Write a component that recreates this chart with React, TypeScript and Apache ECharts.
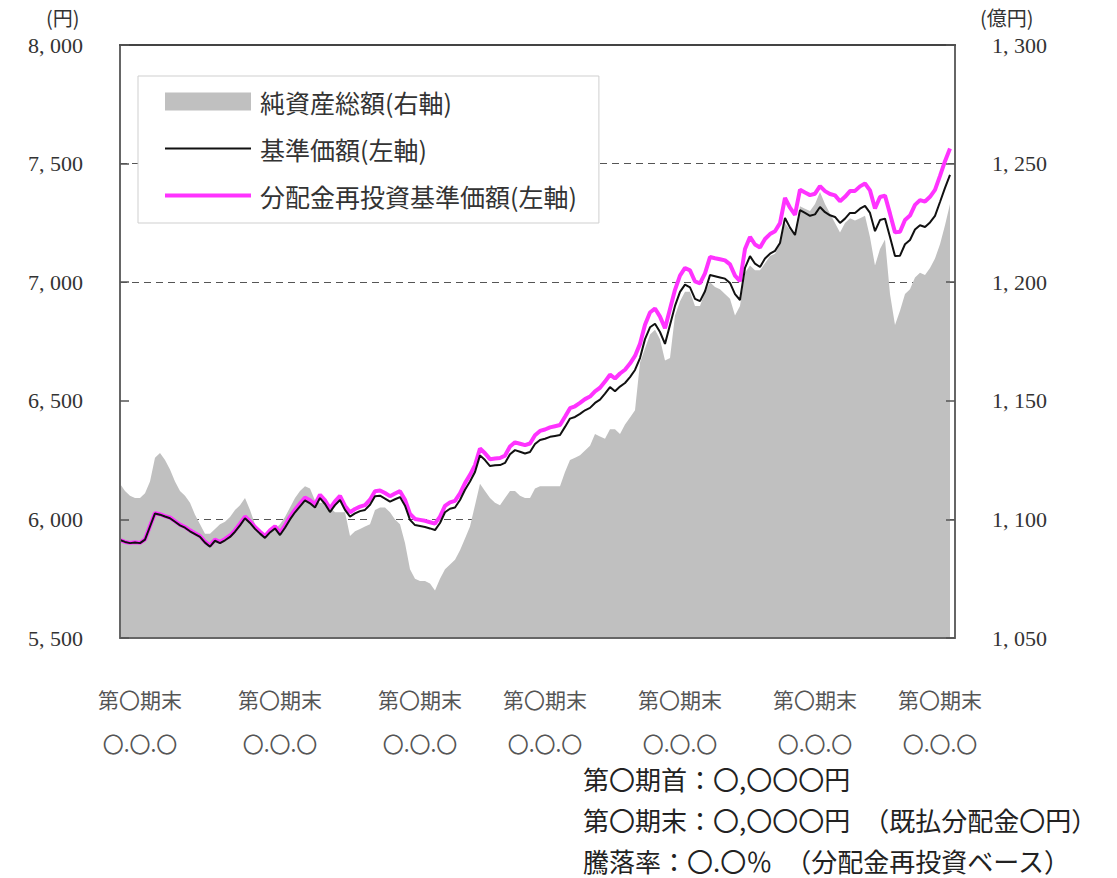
import React, { useEffect, useRef } from 'react';
import * as echarts from 'echarts';

// 基準価額（左軸, 円）
const navValues = [
  5913, 5905, 5900, 5903, 5900, 5915, 5970, 6025, 6020, 6012,
  6005, 5990, 5975, 5965, 5950, 5938, 5926, 5902, 5885, 5910,
  5900, 5912, 5926, 5948, 5975, 6005, 5985, 5960, 5940, 5922,
  5945, 5962, 5934, 5965, 6000, 6030, 6055, 6080, 6068, 6050,
  6090, 6065, 6031, 6060, 6082, 6040, 6012, 6025, 6035, 6040,
  6062, 6098, 6100, 6088, 6075, 6085, 6094, 6058, 5998, 5976,
  5972, 5968, 5962, 5955, 5985, 6030, 6045, 6050, 6082, 6125,
  6160, 6200, 6270, 6250, 6225, 6228, 6229, 6238, 6275, 6292,
  6285, 6278, 6284, 6318, 6335, 6340, 6348, 6352, 6356, 6390,
  6425, 6432, 6445, 6460, 6470, 6491, 6505, 6530, 6558, 6540,
  6560, 6575, 6600, 6630, 6680, 6760, 6810, 6825, 6790, 6740,
  6820, 6900, 6959, 6990, 6978, 6930, 6920, 6962, 7030, 7025,
  7020, 7015, 6997, 6950, 6925, 7060, 7110, 7078, 7064, 7100,
  7120, 7132, 7165, 7271, 7230, 7199, 7304, 7292, 7280, 7286,
  7317, 7295, 7282, 7275, 7250, 7268, 7292, 7292, 7310, 7322,
  7292, 7215, 7262, 7268, 7191, 7110, 7112, 7160, 7178, 7222,
  7240, 7233, 7252, 7280, 7338, 7398, 7452,
];

// 分配金再投資基準価額（左軸, 円）
const reinvestValues = [
  5913, 5905, 5901, 5904, 5901, 5916, 5972, 6027, 6022, 6014,
  6008, 5993, 5978, 5968, 5954, 5942, 5930, 5906, 5890, 5915,
  5905, 5918, 5932, 5954, 5982, 6012, 5992, 5968, 5948, 5930,
  5954, 5971, 5944, 5975, 6011, 6041, 6067, 6092, 6081, 6063,
  6104, 6080, 6046, 6076, 6099, 6057, 6030, 6044, 6054, 6060,
  6083, 6119, 6122, 6111, 6098, 6109, 6119, 6083, 6023, 6002,
  5998, 5994, 5988, 5982, 6012, 6057, 6072, 6078, 6110, 6153,
  6188, 6229, 6299, 6279, 6254, 6257, 6259, 6269, 6307, 6325,
  6319, 6313, 6320, 6355, 6373, 6379, 6388, 6393, 6398, 6433,
  6469, 6477, 6491, 6507, 6518, 6540, 6555, 6581, 6610, 6594,
  6615, 6631, 6657, 6689, 6740, 6821, 6872, 6889, 6855, 6806,
  6887, 6968, 7028, 7060, 7050, 7003, 6995, 7037, 7106, 7101,
  7097, 7092, 7075, 7028, 7004, 7140, 7191, 7159, 7146, 7182,
  7203, 7215, 7249, 7355, 7314, 7284, 7390, 7378, 7367, 7373,
  7405, 7384, 7372, 7366, 7341, 7360, 7384, 7385, 7404, 7416,
  7387, 7311, 7359, 7365, 7289, 7210, 7213, 7262, 7281, 7326,
  7346, 7340, 7360, 7389, 7448, 7510, 7564,
];

// 純資産総額（右軸, 億円）
const netAssets = [
  1115, 1112, 1110, 1109, 1109, 1111, 1116, 1126, 1128, 1125,
  1121, 1116, 1112, 1110, 1107, 1102, 1098, 1094, 1094, 1096,
  1098, 1099, 1101, 1104, 1106, 1109, 1104, 1098, 1095, 1093,
  1094, 1096, 1098, 1101, 1105, 1109, 1112, 1114, 1113, 1108,
  1107, 1107, 1105, 1103, 1103, 1103, 1093, 1095, 1096, 1097,
  1098, 1104, 1105, 1105, 1103, 1100, 1098, 1090, 1079, 1075,
  1074, 1074, 1073, 1070, 1075, 1079, 1081, 1083, 1087, 1092,
  1097, 1106, 1115, 1112, 1109, 1107, 1106, 1109, 1112, 1112,
  1110, 1109, 1109, 1113, 1114, 1114, 1114, 1114, 1114, 1120,
  1125, 1126, 1127, 1129, 1131, 1136, 1135, 1134, 1138, 1138,
  1136, 1140, 1143, 1146, 1166, 1172, 1178, 1180, 1176, 1167,
  1168, 1186, 1192, 1196, 1196, 1190, 1190, 1196, 1200, 1198,
  1197, 1195, 1193, 1186, 1190, 1204, 1207, 1205, 1205, 1208,
  1211, 1212, 1216, 1225, 1222, 1220, 1232, 1231, 1230, 1233,
  1238, 1233, 1229, 1225, 1221, 1225, 1227, 1226, 1227, 1228,
  1219, 1207, 1214, 1218, 1195, 1182, 1188, 1195, 1197, 1202,
  1204, 1203, 1206, 1210, 1216, 1224, 1233,
];

const periodLabels = ['第〇期末', '第〇期末', '第〇期末', '第〇期末', '第〇期末', '第〇期末', '第〇期末'];
const dateLabels = ['〇.〇.〇', '〇.〇.〇', '〇.〇.〇', '〇.〇.〇', '〇.〇.〇', '〇.〇.〇', '〇.〇.〇'];
const labelWeeks = [4, 32, 60, 85, 112, 139, 164];
const weekCount = 168;
const categories = Array.from({ length: weekCount }, (_, i) => `W${i + 1}`);

const NET = '純資産総額(右軸)';
const NAV = '基準価額(左軸)';
const REINV = '分配金再投資基準価額(左軸)';

const noteLines = [
  '第〇期首：〇,〇〇〇円',
  '第〇期末：〇,〇〇〇円　（既払分配金〇円）',
  '騰落率：〇.〇％　（分配金再投資ベース）',
];

const JP = '"Noto Sans CJK JP", sans-serif';
const SERIF = '"Liberation Serif", "DejaVu Serif", serif';

const fmtNum = (v: number) => `${Math.floor(v / 1000)}, ${String(v % 1000).padStart(3, '0')}`;

export default function App() {
  const ref = useRef<HTMLDivElement>(null);
  useEffect(() => {
    if (!ref.current) return;
    const chart = echarts.init(ref.current, null, { renderer: 'svg' });
    const axisLabelNum = {
      margin: 37,
      formatter: (v: number) => fmtNum(v),
      fontFamily: SERIF,
      fontSize: 22,
      color: '#333',
    };
    const frameLine = { show: true, onZero: false, lineStyle: { color: '#666', width: 2 } };
    const innerTick = { show: true, inside: true, length: 9, lineStyle: { color: '#555', width: 1.5 } };
    const option: any = {
      animation: false,
      backgroundColor: '#fff',
      grid: { left: 120, right: 162, top: 45, bottom: 240, containLabel: false },
      legend: {
        orient: 'vertical',
        left: 138,
        top: 76,
        itemWidth: 86,
        itemHeight: 18,
        itemGap: 22,
        padding: [13, 22, 15, 25],
        borderColor: '#cfcfcf',
        borderWidth: 1,
        backgroundColor: '#fff',
        selectedMode: false,
        textStyle: { fontFamily: JP, fontSize: 25, color: '#333', padding: [0, 0, 0, 4] },
        data: [
          { name: NET, icon: 'rect', itemStyle: { color: '#c0c0c0' } },
          { name: NAV, itemStyle: { opacity: 0 }, lineStyle: { width: 2, color: '#111' } },
          { name: REINV, itemStyle: { opacity: 0 }, lineStyle: { width: 4, color: '#ff33ff' } },
        ],
      },
      xAxis: [
        {
          type: 'category',
          position: 'bottom',
          data: categories,
          boundaryGap: false,
          z: 10,
          axisLine: frameLine,
          axisTick: { show: false },
          splitLine: { show: false },
          axisLabel: {
            interval: (index: number) => labelWeeks.includes(index),
            formatter: (_v: string, index: number) => {
              const k = labelWeeks.indexOf(index);
              return k >= 0 ? `${periodLabels[k]}\n${dateLabels[k]}` : '';
            },
            margin: 39,
            lineHeight: 44,
            fontFamily: JP,
            fontSize: 21,
            color: '#555',
          },
        },
        {
          type: 'category',
          position: 'top',
          data: categories,
          boundaryGap: false,
          z: 10,
          axisLine: { show: true, onZero: false, lineStyle: { color: '#444', width: 2 } },
          axisTick: { show: false },
          axisLabel: { show: false },
          splitLine: { show: false },
        },
      ],
      yAxis: [
        {
          type: 'value',
          position: 'left',
          min: 5500,
          max: 8000,
          interval: 500,
          z: 10,
          axisLine: frameLine,
          axisTick: innerTick,
          axisLabel: axisLabelNum,
          splitLine: { show: false },
        },
        {
          type: 'value',
          position: 'right',
          min: 1050,
          max: 1300,
          interval: 50,
          z: 10,
          axisLine: frameLine,
          axisTick: innerTick,
          axisLabel: axisLabelNum,
          splitLine: { show: false },
        },
        {
          type: 'value',
          position: 'left',
          min: 5500,
          max: 8000,
          interval: 500,
          z: 0,
          axisLine: { show: false },
          axisTick: { show: false },
          axisLabel: { show: false },
          splitLine: {
            show: true,
            lineStyle: {
              type: [7, 5],
              width: 1,
              color: ['rgba(0,0,0,0)', '#555', 'rgba(0,0,0,0)', '#555', '#555', 'rgba(0,0,0,0)'],
            },
          },
        },
      ],
      series: [
        {
          name: NET,
          type: 'line',
          xAxisIndex: 0,
          yAxisIndex: 1,
          data: netAssets,
          symbol: 'none',
          lineStyle: { width: 0 },
          itemStyle: { color: '#c0c0c0' },
          areaStyle: { color: '#c0c0c0', opacity: 1 },
          z: 2,
        },
        {
          name: REINV,
          type: 'line',
          xAxisIndex: 0,
          yAxisIndex: 0,
          data: reinvestValues,
          symbol: 'none',
          lineStyle: { color: '#ff33ff', width: 4 },
          itemStyle: { color: '#ff33ff' },
          z: 3,
        },
        {
          name: NAV,
          type: 'line',
          xAxisIndex: 0,
          yAxisIndex: 0,
          data: navValues,
          symbol: 'none',
          lineStyle: { color: '#111', width: 2 },
          itemStyle: { color: '#111' },
          z: 4,
        },
      ],
      graphic: [
        {
          type: 'text',
          x: 46,
          y: 17,
          style: { text: '(円)', fontFamily: JP, fontSize: 20, fill: '#333', align: 'left', verticalAlign: 'middle' },
        },
        {
          type: 'text',
          x: 980,
          y: 17,
          style: { text: '(億円)', fontFamily: JP, fontSize: 20, fill: '#333', align: 'left', verticalAlign: 'middle' },
        },
        ...noteLines.map((t, i) => ({
          type: 'text',
          x: 583,
          y: 778 + i * 41,
          style: { text: t, fontFamily: JP, fontSize: 26, fill: '#222', align: 'left', verticalAlign: 'middle' },
        })),
      ],
    };
    chart.setOption(option);
    return () => chart.dispose();
  }, []);
  return (
    <div
      ref={ref}
      style={{ position: 'fixed', left: 0, top: 0, width: 1117, height: 878, background: '#fff' }}
    />
  );
}
